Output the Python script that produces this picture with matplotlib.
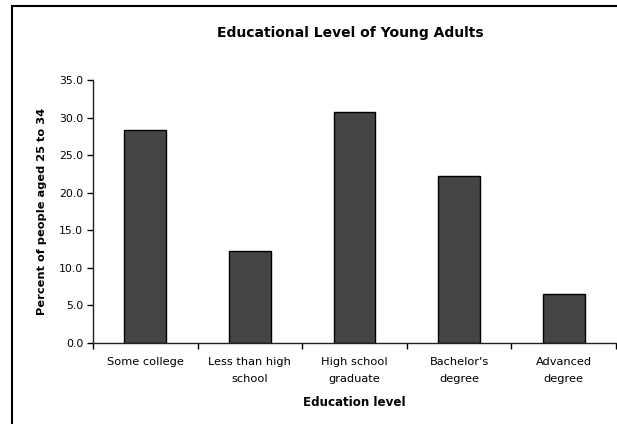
import matplotlib
matplotlib.use("Agg")
import matplotlib.pyplot as plt
from matplotlib.patches import Rectangle

# data
categories = ["Some college", "Less than high\nschool", "High school\ngraduate",
              "Bachelor's\ndegree", "Advanced\ndegree"]
percent = [28.3, 12.3, 30.7, 22.2, 6.5]
yticks = [0, 5, 10, 15, 20, 25, 30, 35]

fig = plt.figure(figsize=(6.17, 4.24), dpi=100)
ax = fig.add_axes([93/617, 1 - 343/424, (616 - 93)/617, (343 - 80)/424])

pos = range(len(categories))
ax.bar(pos, percent, width=0.4, color="#454545", edgecolor="black", linewidth=1)

ax.set_xlim(-0.5, len(categories) - 0.5)
ax.set_ylim(0, 35)
ax.set_yticks(yticks)
ax.set_yticklabels(["%.1f" % v for v in yticks], fontsize=7.8)
ax.set_xticks([p + 0.5 for p in range(-1, len(categories))], minor=False)
ax.set_xticklabels([])
ax.set_xticks(list(pos), minor=True)
ax.set_xticklabels(categories, minor=True, fontsize=8.2, linespacing=1.85)
ax.tick_params(axis="x", which="minor", length=0, pad=10)
ax.tick_params(axis="x", which="major", length=4, width=1, direction="out")
ax.tick_params(axis="y", length=4, width=1, direction="out", pad=3)

for s in ["top", "right"]:
    ax.spines[s].set_visible(False)
for s in ["left", "bottom"]:
    ax.spines[s].set_linewidth(1)
    ax.spines[s].set_color("#222222")

ax.set_ylabel("Percent of people aged 25 to 34", fontsize=8.2, fontweight="bold", labelpad=9)
ax.set_xlabel("Education level", fontsize=8.6, fontweight="bold", labelpad=9)
fig.text(350/617, 1 - 33/424, "Educational Level of Young Adults", ha="center", va="center",
         fontsize=10, fontweight="bold")

# outer chart frame (cropped on the right and bottom)
fig.patches.append(Rectangle((12/617, -0.1), 1.0, 1.1 - 6/424, transform=fig.transFigure,
                             fill=False, linewidth=1.5, edgecolor="black"))

fig.savefig("out.png", dpi=100)
